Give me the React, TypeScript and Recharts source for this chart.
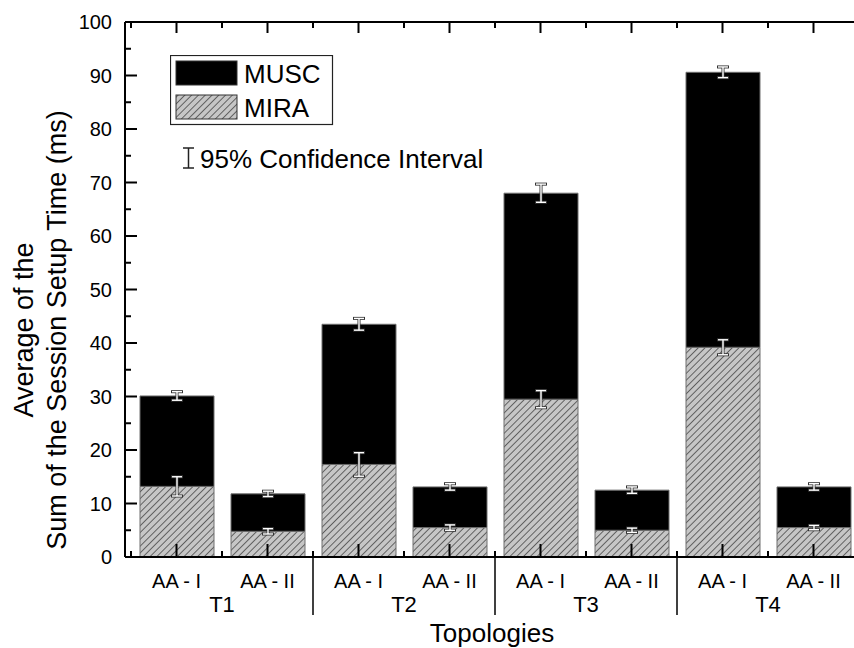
import { BarChart, Bar, XAxis, YAxis, ErrorBar, Legend } from 'recharts'

const categories = ['AA - I', 'AA - II', 'AA - I', 'AA - II', 'AA - I', 'AA - II', 'AA - I', 'AA - II']
const topologies = ['T1', 'T2', 'T3', 'T4']
// MIRA part (bottom, hatched) and MUSC part (top, black) in ms
const miraValues = [13.2, 4.8, 17.3, 5.5, 29.5, 5.0, 39.2, 5.5]
const miraErrors = [1.8, 0.5, 2.2, 0.5, 1.6, 0.4, 1.4, 0.4]
const muscValues = [16.9, 7.0, 26.2, 7.6, 38.5, 7.5, 51.4, 7.6]
const muscErrors = [0.8, 0.5, 1.1, 0.6, 1.7, 0.6, 1.0, 0.6]
const yTicks = [0, 5, 10, 15, 20, 25, 30, 35, 40, 45, 50, 55, 60, 65, 70, 75, 80, 85, 90, 95, 100]

const data = categories.map((cat, i) => ({
  id: `${topologies[Math.floor(i / 2)]}-${cat}`,
  cat,
  group: topologies[Math.floor(i / 2)],
  MIRA: miraValues[i],
  miraErr: miraErrors[i],
  MUSC: muscValues[i],
  muscErr: muscErrors[i],
}))

const FONT = '"Liberation Sans", Arial, Helvetica, sans-serif'
const BAND = 91

function BottomTick(props: any) {
  const { x, y, index } = props
  const d = data[index]
  const odd = index % 2 === 1
  return (
    <g>
      <line x1={x} y1={y} x2={x} y2={y - 13} stroke="#000" strokeWidth={2} />
      <line x1={x - BAND / 2} y1={y} x2={x - BAND / 2} y2={y - 6} stroke="#000" strokeWidth={2} />
      <text x={x} y={y + 31} textAnchor="middle" fontSize={20} fill="#000">
        {d.cat}
      </text>
      {odd && (
        <text x={x - BAND / 2} y={y + 55} textAnchor="middle" fontSize={22} fill="#000">
          {d.group}
        </text>
      )}
      {odd && index < data.length - 1 && (
        <line x1={x + BAND / 2} y1={y} x2={x + BAND / 2} y2={y + 58} stroke="#000" strokeWidth={1.5} />
      )}
    </g>
  )
}

function TopTick(props: any) {
  const { x, y } = props
  return (
    <g>
      <line x1={x} y1={y} x2={x} y2={y + 11} stroke="#000" strokeWidth={2} />
      <line x1={x - BAND / 2} y1={y} x2={x - BAND / 2} y2={y + 6} stroke="#000" strokeWidth={2} />
    </g>
  )
}

function LeftTick(props: any) {
  const { x, y, payload } = props
  const major = payload.value % 10 === 0
  return (
    <g>
      <line x1={x} y1={y} x2={x + (major ? 12 : 6)} y2={y} stroke="#000" strokeWidth={2} />
      {major && (
        <text x={x - 13} y={y} dy="0.36em" textAnchor="end" fontSize={20} fill="#000">
          {payload.value}
        </text>
      )}
    </g>
  )
}

function RightTick(props: any) {
  const { x, y, payload } = props
  const major = payload.value % 10 === 0
  return <line x1={x} y1={y} x2={x - (major ? 7 : 3)} y2={y} stroke="#000" strokeWidth={2} />
}

function YTitle() {
  return (
    <g fontSize={27} fill="#000">
      <text x={33} y={330} transform="rotate(-90 33 330)" textAnchor="middle">
        Average of the
      </text>
      <text x={66} y={330} transform="rotate(-90 66 330)" textAnchor="middle">
        Sum of the Session Setup Time (ms)
      </text>
    </g>
  )
}

function XTitle(props: any) {
  const vb = props.viewBox
  return (
    <text x={vb.x + vb.width / 2} y={vb.y + vb.height - 6} textAnchor="middle" fontSize={26} fill="#000">
      Topologies
    </text>
  )
}

function LegendBox(props: any) {
  const items = [...(props.payload || [])].reverse()
  return (
    <svg width={330} height={120} style={{ display: 'block', fontFamily: FONT }}>
      <rect x={0.5} y={0.5} width={162} height={69} fill="#fff" stroke="#222" strokeWidth={1.2} />
      {items.map((it: any, i: number) => (
        <g key={it.value}>
          <rect x={6} y={6 + i * 34} width={61} height={24} fill={it.color} stroke="#333" strokeWidth={1} />
          <text x={74} y={28 + i * 34} fontSize={26} fill="#000">
            {it.value}
          </text>
        </g>
      ))}
      <g stroke="#222" strokeWidth={1.5}>
        <line x1={18.5} y1={93} x2={18.5} y2={113} />
        <line x1={13} y1={93} x2={24} y2={93} />
        <line x1={13} y1={113} x2={24} y2={113} />
      </g>
      <text x={30} y={113} fontSize={26} fill="#000">
        95% Confidence Interval
      </text>
    </svg>
  )
}

export default function App() {
  return (
    <div
      style={{
        position: 'absolute',
        left: 0,
        top: 0,
        width: 854,
        height: 648,
        overflow: 'hidden',
        background: '#fff',
        fontFamily: FONT,
      }}
    >
      <BarChart
        width={870}
        height={648}
        data={data}
        margin={{ top: 20, right: 0, bottom: 0, left: 0 }}
        barSize={74}
        style={{ fontFamily: FONT }}
      >
        <defs>
          <pattern id="hatch" patternUnits="userSpaceOnUse" width={4.8} height={4.8} patternTransform="rotate(45)">
            <rect width={4.8} height={4.8} fill="#c6c6c6" />
            <line x1={0} y1={0} x2={0} y2={4.8} stroke="#2b2b2b" strokeWidth={1.3} />
          </pattern>
        </defs>
        <XAxis
          dataKey="id"
          height={91}
          padding={{ left: 6, right: 0 }}
          interval={0}
          tickSize={0}
          tickMargin={0}
          tickLine={false}
          axisLine={{ stroke: '#000', strokeWidth: 2 }}
          tick={<BottomTick />}
          label={{ content: <XTitle /> }}
        />
        <XAxis
          xAxisId="top"
          orientation="top"
          dataKey="id"
          height={2}
          padding={{ left: 6, right: 0 }}
          interval={0}
          tickSize={0}
          tickMargin={0}
          tickLine={false}
          axisLine={{ stroke: '#000', strokeWidth: 2 }}
          tick={<TopTick />}
        />
        <YAxis
          width={125}
          type="number"
          domain={[0, 100]}
          ticks={yTicks}
          interval={0}
          tickSize={0}
          tickMargin={0}
          tickLine={false}
          axisLine={{ stroke: '#000', strokeWidth: 2 }}
          tick={<LeftTick />}
          label={{ content: <YTitle /> }}
        />
        <YAxis
          yAxisId="right"
          orientation="right"
          width={11}
          type="number"
          domain={[0, 100]}
          ticks={yTicks}
          interval={0}
          tickSize={0}
          tickMargin={0}
          tickLine={false}
          axisLine={{ stroke: '#000', strokeWidth: 2 }}
          tick={<RightTick />}
        />
        <Legend
          layout="vertical"
          align="center"
          verticalAlign="middle"
          wrapperStyle={{ left: 170, top: 55, width: 330 }}
          content={<LegendBox />}
        />
        <Bar dataKey="MIRA" stackId="a" fill="url(#hatch)" stroke="#6e6e6e" strokeWidth={1} isAnimationActive={false}>
          <ErrorBar dataKey="miraErr" width={6} stroke="#333" strokeWidth={3} isAnimationActive={false} />
          <ErrorBar dataKey="miraErr" width={5} stroke="#fff" strokeWidth={1.4} isAnimationActive={false} />
        </Bar>
        <Bar dataKey="MUSC" stackId="a" fill="#000" stroke="#6e6e6e" strokeWidth={1} isAnimationActive={false}>
          <ErrorBar dataKey="muscErr" width={6} stroke="#333" strokeWidth={3} isAnimationActive={false} />
          <ErrorBar dataKey="muscErr" width={5} stroke="#fff" strokeWidth={1.4} isAnimationActive={false} />
        </Bar>
      </BarChart>
    </div>
  )
}
